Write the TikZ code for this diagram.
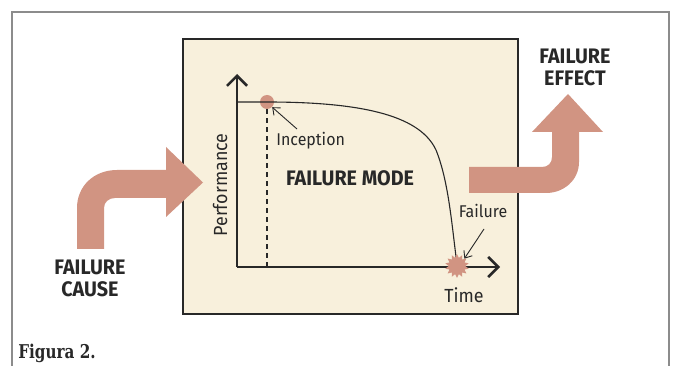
\documentclass[tikz,border=0pt]{standalone}
\usepackage{fontspec}
\setmainfont[FakeStretch=0.94]{Fira Sans}
\newfontfamily\slabfont[FakeStretch=0.8]{DejaVu Serif}
\usepackage{tikz}
\usetikzlibrary{arrows.meta,shapes.geometric}
\definecolor{salmon}{RGB}{209,148,130}
\definecolor{cream}{RGB}{248,240,220}
\definecolor{ink}{RGB}{40,40,40}
\tikzset{every picture/.style={line width=0.75pt}}
\tikzset{
  flowarrow/.style={fill=salmon, draw=none},
  axisline/.style={draw=ink, line width=2.6, -{Straight Barb[length=10pt,width=20pt]}},
  thinarrow/.style={draw=ink, line width=0.9, -{Straight Barb[length=6pt,width=10pt]}},
  biglabel/.style={font=\fontsize{21}{22}\selectfont\bfseries, text=ink, align=center, inner sep=0pt},
  smalllabel/.style={font=\fontsize{17}{18}\selectfont, text=ink, inner sep=0pt}
}

\begin{document}
\begin{tikzpicture}[x=1pt,y=1pt,yscale=-1,xscale=1]
    \useasboundingbox (0,0) rectangle (675,366);
    % frame round the figure
    \draw [color={rgb, 255:red, 140; green, 140; blue, 140}, line width=1.2] (12,366) -- (12,12) -- (669,12) -- (669,366) ;
    % failure mode box
    \node [draw=ink, line width=1.6, fill=cream, minimum width=335, minimum height=275, inner sep=0pt] (mode) at (350.5,176.5) {};
    % flow arrows
    \draw [flowarrow] (77,249) -- (77,208) .. controls (77,186) and (94,170) .. (117,170) -- (166,170) -- (166,147) -- (203,182.5) -- (166,217) -- (166,198) -- (115,198) .. controls (109,198) and (104,202) .. (104,208) -- (104,249) -- cycle ;
    \draw [flowarrow] (469,167) -- (542,167) .. controls (548,167) and (552,163) .. (552,157) -- (552,132) -- (532,132) -- (568,94) -- (603,132) -- (579,132) -- (579,162) .. controls (579,180) and (564,193) .. (546,193) -- (469,193) -- cycle ;
    % axes
    \coordinate (orig) at (237,267);
    \coordinate (ytop) at (237,74);
    \coordinate (xend) at (500,267);
    \draw [axisline] (orig) -- (ytop) ;
    \draw [axisline] (orig) -- (xend) ;
    % performance curve
    \coordinate (start) at (237,102);
    \coordinate (knee) at (436,150);
    \node [circle, fill=salmon, minimum size=14, inner sep=0pt] (incep) at (267,102) {};
    \draw [ink, line width=1.6, dashed, dash pattern=on 5pt off 4pt] (incep) -- (incep |- orig) ;
    \draw [ink, line width=1.1] (start) -- (incep.center) .. controls (370,102) and (421,118) .. (knee) .. controls (449,182) and (452,228) .. (457,264) ;
    \node [star, star points=14, star point ratio=1.45, fill=salmon, minimum size=24, inner sep=0pt] (burst) at (457,266) {};
    % labels
    \node [smalllabel, anchor=west] (inceplbl) at (276,141) {Inception};
    \node [smalllabel] (faillbl) at (483,211) {Failure};
    \draw [thinarrow] (297,129) -- (incep.south east) ;
    \draw [thinarrow] (484,229) -- (burst.north east) ;
    \node [smalllabel, font=\fontsize{19}{20}\selectfont] (timelbl) at (464,295) {Time};
    \node [smalllabel, font=\fontsize{19}{20}\selectfont, rotate=90] (perflbl) at (220,185) {Performance};
    \node [biglabel] (modelbl) at (350,178) {FAILURE MODE};
    \node [biglabel] (causelbl) at (90,278) {FAILURE\\CAUSE};
    \node [biglabel] (effectlbl) at (575,67) {FAILURE\\EFFECT};
    \node [anchor=west, inner sep=0pt, text=ink, font=\slabfont\fontsize{19}{20}\selectfont\bfseries] (caption) at (18,353) {Figura 2.};
\end{tikzpicture}
\end{document}
